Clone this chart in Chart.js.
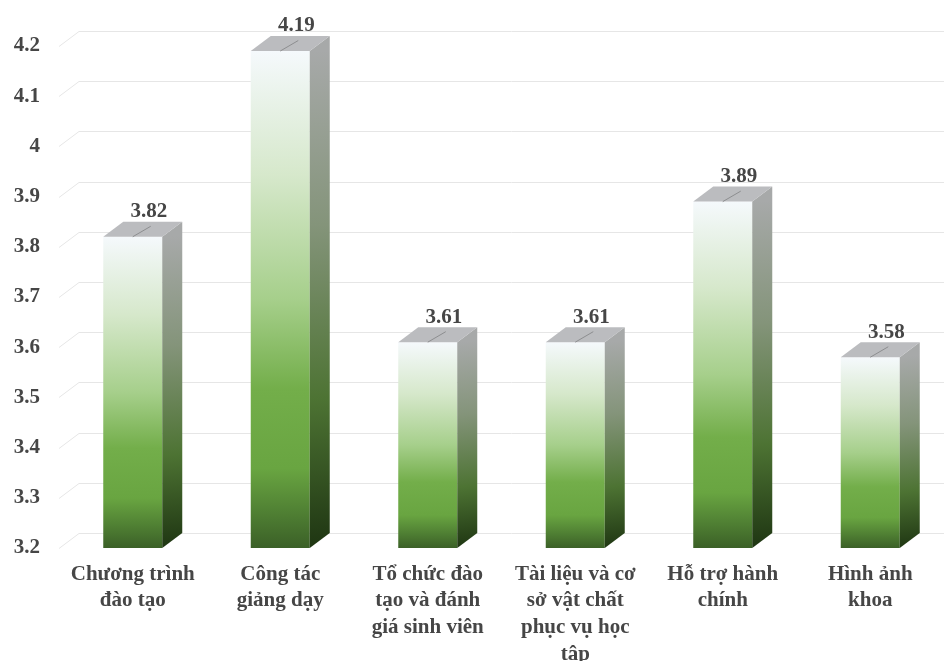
<!DOCTYPE html>
<html>
<head>
<meta charset="utf-8">
<script src="https://cdn.jsdelivr.net/npm/chart.js@4"></script>
<style>
    body { margin: 0; background: #ffffff; }
    #wrap { width: 944px; height: 661px; }
</style>
</head>
<body>
<div id="wrap"><canvas id="scoreChart" width="944" height="661"></canvas></div>
<script>
// Average scores per evaluation group
let groupLabels = [
    ['Chương trình', 'đào tạo'],
    ['Công tác', 'giảng dạy'],
    ['Tổ chức đào', 'tạo và đánh', 'giá sinh viên'],
    ['Tài liệu và cơ', 'sở vật chất', 'phục vụ học', 'tập'],
    ['Hỗ trợ hành', 'chính'],
    ['Hình ảnh', 'khoa']
];
let avgScores = [3.82, 4.19, 3.61, 3.61, 3.89, 3.58];
let yMin = 3.2;
let yMax = 4.2;
let yStep = 0.1;

// depth of the fake 3D box (to the right and up)
const DEPTH_X = 20;
const DEPTH_Y = -15;
const textColor = '#464646';
const serif = "'Liberation Serif', 'Times New Roman', serif";

function frontGradient(context) {
    let chart = context.chart;
    if (!chart.chartArea || context.type !== 'data') {
        return '#70ad47';
    }
    let yScale = chart.scales.y;
    let top = yScale.getPixelForValue(context.parsed.y);
    let bottom = yScale.getPixelForValue(yMin);
    let g = chart.ctx.createLinearGradient(0, top, 0, bottom);
    g.addColorStop(0, '#f5f9fc');
    g.addColorStop(0.25, '#d6e8cb');
    g.addColorStop(0.5, '#a6cf8b');
    g.addColorStop(0.68, '#73ae4a');
    g.addColorStop(0.84, '#69a541');
    g.addColorStop(0.93, '#4f7f33');
    g.addColorStop(1, '#3b6027');
    return g;
}

// gridlines on the back wall with the short slanted piece on the side wall
const backWall = {
    id: 'backWall',
    beforeDatasetsDraw(chart) {
        let ctx = chart.ctx;
        let area = chart.chartArea;
        let yScale = chart.scales.y;
        ctx.save();
        ctx.strokeStyle = '#e6e6e6';
        ctx.lineWidth = 1;
        for (let tick of yScale.ticks) {
            let y = Math.round(yScale.getPixelForValue(tick.value)) + 0.5;
            ctx.beginPath();
            ctx.moveTo(area.left, y);
            ctx.lineTo(area.left + DEPTH_X, y + DEPTH_Y);
            ctx.lineTo(area.right, y + DEPTH_Y);
            ctx.stroke();
        }
        ctx.restore();
    }
};

// side and top faces of each bar, plus the value on top
const barDepth = {
    id: 'barDepth',
    afterDatasetsDraw(chart) {
        let ctx = chart.ctx;
        let meta = chart.getDatasetMeta(0);
        let bottom = chart.scales.y.getPixelForValue(yMin);
        ctx.save();
        meta.data.forEach(function(bar, i) {
            let p = bar.getProps(['x', 'y', 'width'], true);
            let left = p.x - p.width / 2;
            let right = p.x + p.width / 2;
            let top = p.y;

            // side face
            let sg = ctx.createLinearGradient(right, top, right + DEPTH_X, bottom);
            sg.addColorStop(0, '#a7a9a9');
            sg.addColorStop(0.35, '#84947a');
            sg.addColorStop(0.7, '#4d7333');
            sg.addColorStop(1, '#1e3512');
            ctx.fillStyle = sg;
            ctx.beginPath();
            ctx.moveTo(right, top);
            ctx.lineTo(right + DEPTH_X, top + DEPTH_Y);
            ctx.lineTo(right + DEPTH_X, bottom + DEPTH_Y);
            ctx.lineTo(right, bottom);
            ctx.closePath();
            ctx.fill();

            // top face
            ctx.fillStyle = '#bbbcbf';
            ctx.beginPath();
            ctx.moveTo(left, top);
            ctx.lineTo(right, top);
            ctx.lineTo(right + DEPTH_X, top + DEPTH_Y);
            ctx.lineTo(left + DEPTH_X, top + DEPTH_Y);
            ctx.closePath();
            ctx.fill();

            ctx.strokeStyle = '#8d8e90';
            ctx.lineWidth = 1;
            ctx.beginPath();
            ctx.moveTo(p.x, top);
            ctx.lineTo(p.x + DEPTH_X * 0.9, top + DEPTH_Y * 0.7);
            ctx.stroke();

            // value label
            ctx.fillStyle = textColor;
            ctx.font = 'bold 21px ' + serif;
            ctx.textAlign = 'center';
            ctx.textBaseline = 'middle';
            ctx.fillText(avgScores[i].toFixed(2), p.x + 16, top - 25);
        });
        ctx.restore();
    }
};

let ctx = document.getElementById('scoreChart').getContext('2d');
let scoreChart = new Chart(ctx, {
    type: 'bar',
    data: {
        labels: groupLabels,
        datasets: [{
            data: avgScores,
            backgroundColor: frontGradient,
            borderWidth: 0,
            categoryPercentage: 1,
            barPercentage: 0.4
        }]
    },
    options: {
        responsive: false,
        animation: false,
        layout: {
            padding: { top: 46, right: 0, left: 0, bottom: 0 }
        },
        plugins: {
            legend: { display: false },
            tooltip: { enabled: false }
        },
        scales: {
            y: {
                min: yMin,
                max: yMax,
                border: { display: false },
                grid: { display: false, drawTicks: false },
                ticks: {
                    stepSize: yStep,
                    padding: 19,
                    color: textColor,
                    font: { family: serif, size: 21, weight: 'bold' },
                    callback: function(value) {
                        return String(Math.round(value * 10) / 10);
                    }
                },
                afterFit: function(scale) {
                    scale.width = 59;
                }
            },
            x: {
                border: { display: false },
                grid: { display: false, drawTicks: false },
                ticks: {
                    padding: 13,
                    maxRotation: 0,
                    autoSkip: false,
                    color: textColor,
                    font: { family: serif, size: 21, weight: 'bold', lineHeight: 1.27 }
                },
                afterFit: function(scale) {
                    scale.height = 113;
                }
            }
        }
    },
    plugins: [backWall, barDepth]
});
</script>
</body>
</html>
